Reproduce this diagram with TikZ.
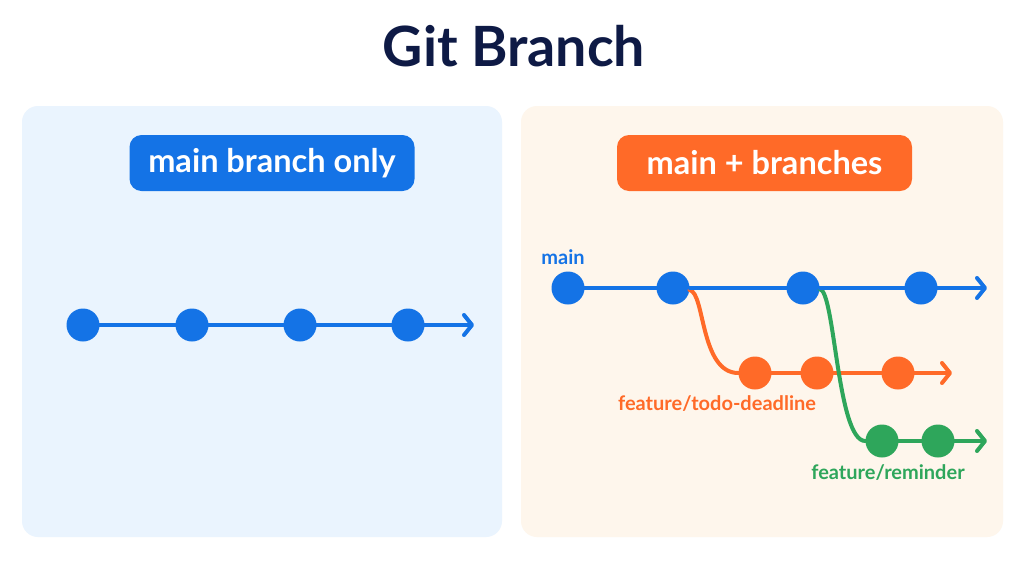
\documentclass[tikz,border=0pt]{standalone}
\usepackage{fontspec}
\setmainfont{Lato}
\usetikzlibrary{arrows.meta}

\definecolor{navy}{HTML}{0E1A45}
\definecolor{gblue}{HTML}{1473E6}
\definecolor{gorange}{HTML}{FF6A28}
\definecolor{ggreen}{HTML}{2EA65B}
\definecolor{bluepanel}{HTML}{EAF4FE}
\definecolor{creampanel}{HTML}{FEF6EC}

\tikzset{
  commit/.style={circle, fill=#1, inner sep=0pt, minimum size=33pt},
  branchline/.style={draw=#1, line width=4pt, line cap=round},
  tipline/.style={branchline=#1, -{Straight Barb[length=8pt, width=20pt, round]}},
  pill/.style={fill=#1, rounded corners=12pt, text=white, minimum height=56pt,
    font=\fontsize{32.5}{36}\selectfont\bfseries},
  tag/.style={text=#1, font=\fontsize{20}{24}\selectfont\bfseries}
}

\begin{document}
\begin{tikzpicture}[x=1pt, y=-1pt]
  \useasboundingbox (0,0) rectangle (1024,576);
  \fill[white] (0,0) rectangle (1024,576);
  \fill[bluepanel, rounded corners=16pt] (22,106) rectangle (502,537);
  \fill[creampanel, rounded corners=16pt] (521,106) rectangle (1003,537);

  \node[text=navy, font=\fontsize{55.5}{60}\selectfont\bfseries] (title) at (514,46) {Git Branch};
  \node[pill=gblue, minimum width=285pt] (lefthead) at (272,163) {main branch only};
  \node[pill=gorange, minimum width=295pt] (righthead) at (764.5,163) {main + branches};

  % left: main only
  \node[commit=gblue] (l1) at (83,325) {};
  \node[commit=gblue] (l2) at (192,325) {};
  \node[commit=gblue] (l3) at (300,325) {};
  \node[commit=gblue] (l4) at (408,325) {};
  \coordinate (lend) at (474,325);
  \draw[branchline=gblue] (l1) -- (l2) -- (l3) -- (l4);
  \draw[tipline=gblue] (l4) -- (lend);

  % right: main + two branches
  \node[commit=gblue] (m1) at (568,288) {};
  \node[commit=gblue] (m2) at (673,288) {};
  \node[commit=gblue] (m3) at (803,288) {};
  \node[commit=gblue] (m4) at (921,288) {};
  \coordinate (mend) at (987,288);
  \node[commit=gorange] (f1) at (755,373) {};
  \node[commit=gorange] (f2) at (817,373) {};
  \node[commit=gorange] (f3) at (898,373) {};
  \coordinate (fend) at (952,373);
  \node[commit=ggreen] (g1) at (882,441) {};
  \node[commit=ggreen] (g2) at (938,441) {};
  \coordinate (gend) at (987,441);

  \draw[branchline=gorange] (m2) .. controls (705,292) and (700,373) .. (f1);
  \draw[branchline=gorange] (f1) -- (f2) -- (f3);
  \draw[tipline=gorange] (f3) -- (fend);
  \draw[branchline=ggreen] (m3) .. controls (835,290) and (837,441) .. (g1);
  \draw[branchline=ggreen] (g1) -- (g2);
  \draw[tipline=ggreen] (g2) -- (gend);
  \draw[branchline=gblue] (m1) -- (m2) -- (m3) -- (m4);
  \draw[tipline=gblue] (m4) -- (mend);

  \node[tag=gblue] (maintag) at (563,257) {main};
  \node[tag=gorange] (todotag) at (717,404) {feature/todo-deadline};
  \node[tag=ggreen] (remtag) at (888,473) {feature/reminder};
\end{tikzpicture}
\end{document}
